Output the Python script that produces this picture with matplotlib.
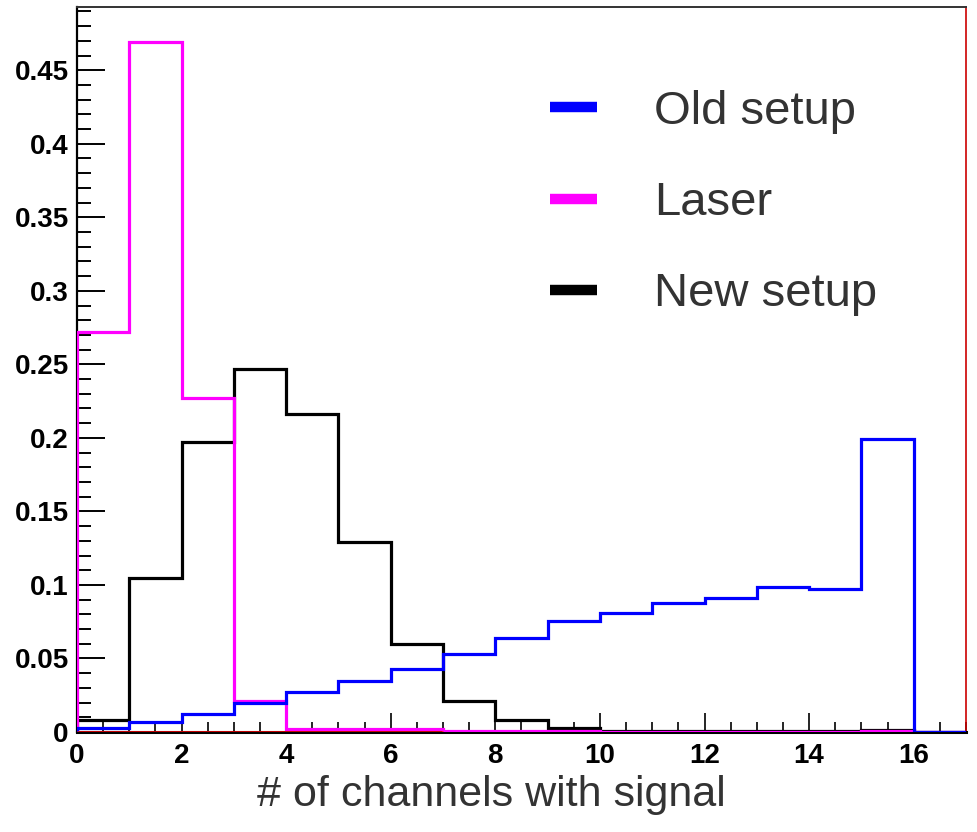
import matplotlib
matplotlib.use("Agg")
import matplotlib.pyplot as plt
from matplotlib.lines import Line2D
from matplotlib.ticker import MultipleLocator
import numpy as np

# Bin edges: number of channels with signal (0..17)
edges = np.arange(0, 18)

# Normalised fractions per bin
old_setup = [0.003, 0.007, 0.012, 0.020, 0.027, 0.035, 0.043, 0.053, 0.064,
             0.0755, 0.081, 0.088, 0.091, 0.0985, 0.097, 0.199, 0.0]
laser = [0.272, 0.469, 0.227, 0.021, 0.002, 0.002, 0.002, 0.001, 0.0008,
         0.001, 0.0, 0.0, 0.0, 0.0, 0.0, 0.001, 0.0]
new_setup = [0.008, 0.105, 0.197, 0.247, 0.216, 0.129, 0.060, 0.021, 0.008,
             0.003, 0.0005, 0.0005, 0.0005, 0.0005, 0.0005, 0.0015, 0.0]
# empty reference histogram drawn along the baseline
reference_edges = np.arange(0, 8)
reference = [0.0] * 7

labels = ["Old setup", "Laser", "New setup"]
colors = ["#0000ff", "#ff00ff", "#000000"]

fig = plt.figure(figsize=(9.78, 8.32), dpi=100)
ax = fig.add_axes([77 / 978, 100 / 832, (966 - 77) / 978, (725) / 832])

lw = 2.3
ax.stairs(new_setup, edges, color=colors[2], lw=lw, zorder=3)
ax.stairs(laser, edges, color=colors[1], lw=lw, zorder=4)
ax.stairs(old_setup, edges, color=colors[0], lw=lw, zorder=5)
ax.stairs(reference, reference_edges, color="#ff0000", lw=1.8, zorder=6)

ax.set_xlim(0, 17)
ax.set_ylim(0, 0.493)

ax.xaxis.set_major_locator(MultipleLocator(2))
ax.xaxis.set_minor_locator(MultipleLocator(0.5))
ax.yaxis.set_major_locator(MultipleLocator(0.05))
ax.yaxis.set_minor_locator(MultipleLocator(0.01))
ax.tick_params(axis="x", which="major", direction="in", length=14, width=1.2,
               pad=8)
ax.tick_params(axis="x", which="minor", direction="in", length=7, width=1.2)
ax.tick_params(axis="y", which="major", direction="in", length=20, width=1.4,
               pad=6)
ax.tick_params(axis="y", which="minor", direction="in", length=10, width=1.4)


def fmt(v, pos):
    return f"{v:.2f}".rstrip("0").rstrip(".")


ax.yaxis.set_major_formatter(plt.FuncFormatter(fmt))
ax.xaxis.set_major_formatter(plt.FuncFormatter(lambda v, p: f"{int(v)}"))
for lab in ax.get_xticklabels() + ax.get_yticklabels():
    lab.set_fontfamily("Liberation Sans")
    lab.set_fontweight("bold")
    lab.set_fontsize(20)

ax.spines["left"].set_linewidth(1.6)
ax.spines["bottom"].set_linewidth(2.2)
ax.spines["top"].set_linewidth(1.4)
ax.spines["top"].set_color("#333333")
ax.spines["right"].set_linewidth(1.2)
ax.spines["right"].set_color("#cc0000")

handles = [Line2D([], [], color=c, lw=7.5, solid_capstyle="butt") for c in colors]
leg = ax.legend(handles, labels, loc="upper left",
                bbox_to_anchor=(550 / 978, 1 - 90 / 832),
                bbox_transform=fig.transFigure, frameon=False,
                prop={"family": "Liberation Sans", "size": 34},
                handlelength=1.0, handletextpad=1.2, labelspacing=1.0,
                borderpad=0, borderaxespad=0)
for t in leg.get_texts():
    t.set_color("#333333")

fig.text(491 / 978, 1 - 795 / 832, "# of channels with signal",
         ha="center", va="center", fontsize=31, family="Liberation Sans",
         color="#333333")

fig.savefig("out.png", dpi=100, facecolor="white")
